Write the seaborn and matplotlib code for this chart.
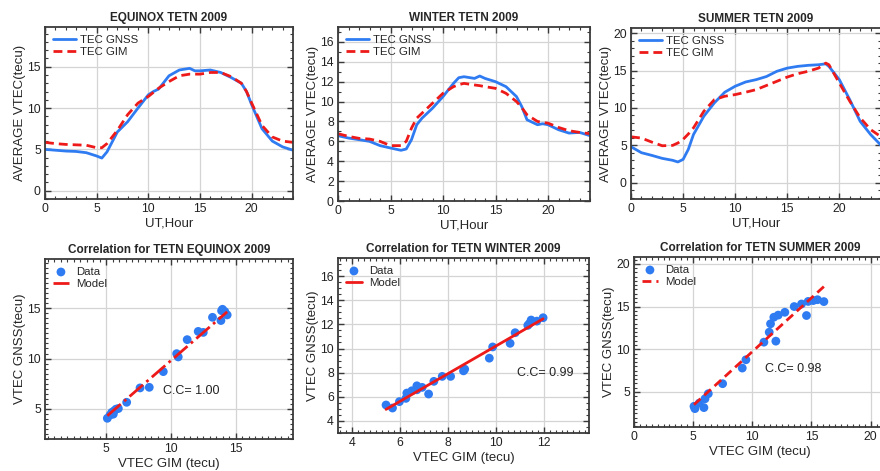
import numpy as np
import pandas as pd
import matplotlib
matplotlib.use("Agg")
import matplotlib.pyplot as plt
import seaborn as sns
from matplotlib.ticker import MultipleLocator

# ---------------- data ----------------
eq_hours = [0, 1, 2, 3, 4, 5, 5.5, 6, 7, 8, 9, 10, 10.5, 11, 12, 13, 14, 14.5, 15, 16, 17, 18, 19, 19.5, 20, 21, 22, 23, 24]
eq_gnss = [5.0, 4.9, 4.8, 4.75, 4.6, 4.2, 3.95, 4.7, 7.1, 8.35, 10.0, 11.6, 12.0, 12.3, 13.9, 14.6, 14.8, 14.5, 14.5, 14.6, 14.3, 13.7, 13.0, 12.0, 10.4, 7.5, 6.0, 5.3, 4.9]
eq_gim = [5.85, 5.7, 5.6, 5.55, 5.5, 5.2, 5.2, 5.7, 7.3, 9.2, 10.6, 11.4, 11.9, 12.4, 13.2, 13.9, 14.1, 14.1, 14.1, 14.3, 14.3, 13.8, 13.0, 12.0, 10.6, 7.9, 6.5, 6.0, 5.85]

wi_hours = [0, 1, 2, 3, 4, 5, 6, 6.5, 7, 7.5, 8, 9, 10, 11, 11.5, 12, 13, 13.5, 14, 15, 16, 17, 17.5, 18, 19, 19.5, 20, 21, 22, 23, 24]
wi_gnss = [6.57, 6.33, 6.17, 6.0, 5.57, 5.33, 5.1, 5.23, 6.17, 7.67, 8.33, 9.33, 10.5, 11.83, 12.4, 12.5, 12.33, 12.57, 12.33, 12.0, 11.5, 10.5, 9.5, 8.17, 7.67, 7.77, 7.67, 7.17, 6.83, 6.9, 6.57]
wi_gim = [6.77, 6.5, 6.3, 6.23, 6.0, 5.57, 5.57, 6.0, 7.33, 8.33, 8.83, 9.83, 10.83, 11.5, 11.7, 11.83, 11.67, 11.6, 11.5, 11.33, 10.83, 10.0, 9.4, 8.67, 8.0, 7.9, 7.83, 7.4, 7.07, 6.9, 6.77]

su_hours = [0, 1, 2, 3, 4, 4.5, 5, 5.5, 6, 7, 8, 9, 10, 11, 12, 13, 14, 15, 16, 17, 18, 18.7, 19, 20, 21, 22, 23, 24]
su_gnss = [4.8, 4.0, 3.64, 3.24, 2.98, 2.76, 3.1, 4.44, 6.44, 8.9, 10.67, 12.1, 12.9, 13.47, 13.78, 14.2, 14.9, 15.33, 15.56, 15.7, 15.78, 15.9, 15.56, 13.78, 11.1, 8.2, 6.44, 5.0]
su_gim = [6.13, 5.96, 5.42, 4.93, 4.98, 5.3, 5.78, 6.5, 7.33, 9.56, 11.1, 11.56, 11.78, 12.1, 12.44, 13.0, 13.56, 14.13, 14.58, 14.9, 15.33, 16.0, 15.78, 13.33, 10.9, 8.67, 7.1, 6.13]

eq_sc_gim = [5.1, 5.31, 5.44, 5.56, 5.62, 5.77, 5.95, 6.59, 7.62, 8.33, 9.41, 10.44, 10.56, 11.25, 12.1, 12.49, 13.2, 13.85, 13.9, 13.97, 14.15, 14.33]
eq_sc_gnss = [4.06, 4.38, 4.64, 4.47, 4.8, 4.97, 5.03, 5.65, 7.08, 7.14, 8.7, 10.49, 10.16, 11.88, 12.7, 12.6, 14.1, 13.78, 14.76, 14.9, 14.67, 14.34]
eq_fit = (1.12, -1.4)
eq_cc = "C.C= 1.00"

wi_sc_gim = [5.41, 5.68, 5.97, 6.24, 6.28, 6.49, 6.7, 6.7, 6.92, 7.19, 7.41, 7.76, 8.11, 8.65, 8.7, 9.73, 9.87, 10.6, 10.81, 11.34, 11.41, 11.48, 11.72, 11.98]
wi_sc_gnss = [5.32, 5.07, 5.6, 5.87, 6.31, 6.5, 6.91, 6.58, 6.78, 6.23, 7.28, 7.69, 7.69, 8.15, 8.29, 9.2, 10.13, 10.43, 11.31, 11.92, 12.08, 12.36, 12.27, 12.55]
wi_fit = (1.142, -1.22)
wi_cc = "C.C= 0.99"

su_sc_gim = [5.07, 5.15, 5.52, 5.91, 6.0, 6.28, 7.49, 9.15, 9.46, 10.98, 11.43, 11.54, 11.99, 11.82, 12.19, 12.75, 13.54, 14.16, 14.58, 14.72, 15.15, 15.51, 16.05]
su_sc_gnss = [3.32, 3.05, 3.7, 3.17, 4.2, 4.8, 5.97, 7.8, 8.77, 10.83, 12.0, 12.98, 10.95, 13.75, 14.0, 14.33, 15.0, 15.3, 13.95, 15.6, 15.7, 15.8, 15.58]
su_fit = (1.259, -2.87)
su_cc = "C.C= 0.98"

# ---------------- style ----------------
sns.set_style("ticks")
plt.rcParams['font.family'] = ['Liberation Sans', 'DejaVu Sans']
BLUE = '#2f7bf2'
RED = '#ee1a1a'
FRAME = '#3a3a3a'

fig = plt.figure(figsize=(8.8, 4.71), dpi=100)
W, H = 880.0, 471.0


def make_ax(x0, x1, ytop, ybot):
    return fig.add_axes([x0 / W, 1 - ybot / H, (x1 - x0) / W, (ybot - ytop) / H])


def style(ax, xmaj, xmin, ymaj, ymin):
    ax.xaxis.set_major_locator(MultipleLocator(xmaj))
    ax.xaxis.set_minor_locator(MultipleLocator(xmin))
    ax.yaxis.set_major_locator(MultipleLocator(ymaj))
    ax.yaxis.set_minor_locator(MultipleLocator(ymin))
    ax.tick_params(which='both', direction='in', top=True, right=True, colors=FRAME,
                   labelcolor='#222222', labelsize=8.8)
    ax.tick_params(which='major', length=4, width=1.0, pad=3)
    ax.tick_params(which='minor', length=2, width=0.8)
    ax.grid(True, which='major', color='#d4d4d4', lw=0.9)
    ax.set_axisbelow(True)
    for s in ax.spines.values():
        s.set_color(FRAME)
        s.set_linewidth(1.3)


def top_panel(ax, hours, gnss, gim, title, xlim, ylim, ymaj):
    df = pd.DataFrame({'h': hours, 'gnss': gnss, 'gim': gim})
    sns.lineplot(data=df, x='h', y='gnss', ax=ax, color=BLUE, lw=2.0, label='TEC GNSS')
    sns.lineplot(data=df, x='h', y='gim', ax=ax, color=RED, lw=2.0,
                 linestyle=(0, (3.2, 1.8)), label='TEC GIM')
    ax.set_xlim(*xlim)
    ax.set_ylim(*ylim)
    style(ax, 5, 1, ymaj, 1)
    ax.set_title(title, fontsize=8.5, fontweight='bold', pad=4)
    ax.set_xlabel('UT,Hour', fontsize=9.5, labelpad=2)
    ax.set_ylabel('AVERAGE VTEC(tecu)', fontsize=9.5, labelpad=1)
    ax.legend(loc='upper left', frameon=False, fontsize=8.2, handlelength=2.0,
              borderaxespad=0.3, labelspacing=0.2, handletextpad=0.4)


def bottom_panel(ax, gx, gy, fit, cc, cc_pos, title, xlim, ylim, xmaj, ymaj, ls):
    df = pd.DataFrame({'gim': gx, 'gnss': gy})
    sns.scatterplot(data=df, x='gim', y='gnss', ax=ax, color=BLUE, s=40,
                    edgecolor='none', label='Data', zorder=3)
    xs = np.array([min(gx), max(gx)])
    fdf = pd.DataFrame({'x': xs, 'y': fit[0] * xs + fit[1]})
    sns.lineplot(data=fdf, x='x', y='y', ax=ax, color=RED, lw=2.0, linestyle=ls,
                 label='Model', zorder=4)
    ax.set_xlim(*xlim)
    ax.set_ylim(*ylim)
    style(ax, xmaj, 0.25 if xmaj == 2 else 0.5, ymaj, 0.5)
    ax.set_title(title, fontsize=8.5, fontweight='bold', pad=4)
    ax.set_xlabel('VTEC GIM (tecu)', fontsize=9.5, labelpad=2)
    ax.set_ylabel('VTEC GNSS(tecu)', fontsize=9.5, labelpad=1)
    ax.text(cc_pos[0], cc_pos[1], cc, fontsize=9, va='center', ha='left', color='#222222')
    ax.legend(loc='upper left', frameon=False, fontsize=8.2, handlelength=1.4,
              borderaxespad=0.3, labelspacing=0.2, handletextpad=0.6, markerscale=1.0)


ax1 = make_ax(45, 293, 27, 199)
top_panel(ax1, eq_hours, eq_gnss, eq_gim, 'EQUINOX TETN 2009', (0, 24), (-1, 19.8), 5)
ax2 = make_ax(338, 590, 27, 201)
top_panel(ax2, wi_hours, wi_gnss, wi_gim, 'WINTER TETN 2009', (0, 24), (0, 17.5), 2)
ax3 = make_ax(631, 881, 28, 199)
top_panel(ax3, su_hours, su_gnss, su_gim, 'SUMMER TETN 2009', (0, 24), (-2.2, 20.7), 5)

ax4 = make_ax(45, 293, 259, 439)
bottom_panel(ax4, eq_sc_gim, eq_sc_gnss, eq_fit, eq_cc, (9.4, 6.8),
             'Correlation for TETN EQUINOX 2009', (0.3, 19.4), (2.0, 19.9), 5, 5, '-.')
ax5 = make_ax(338, 589, 258, 433)
bottom_panel(ax5, wi_sc_gim, wi_sc_gnss, wi_fit, wi_cc, (10.9, 8.0),
             'Correlation for TETN WINTER 2009', (3.4, 13.9), (3.0, 17.5), 2, 2, '-')
ax6 = make_ax(634, 886, 257, 427)
bottom_panel(ax6, su_sc_gim, su_sc_gnss, su_fit, su_cc, (11.1, 7.7),
             'Correlation for TETN SUMMER 2009', (0, 21.3), (0.9, 20.8), 5, 5, (0, (3.2, 1.8)))

fig.savefig('out.png', dpi=100)
